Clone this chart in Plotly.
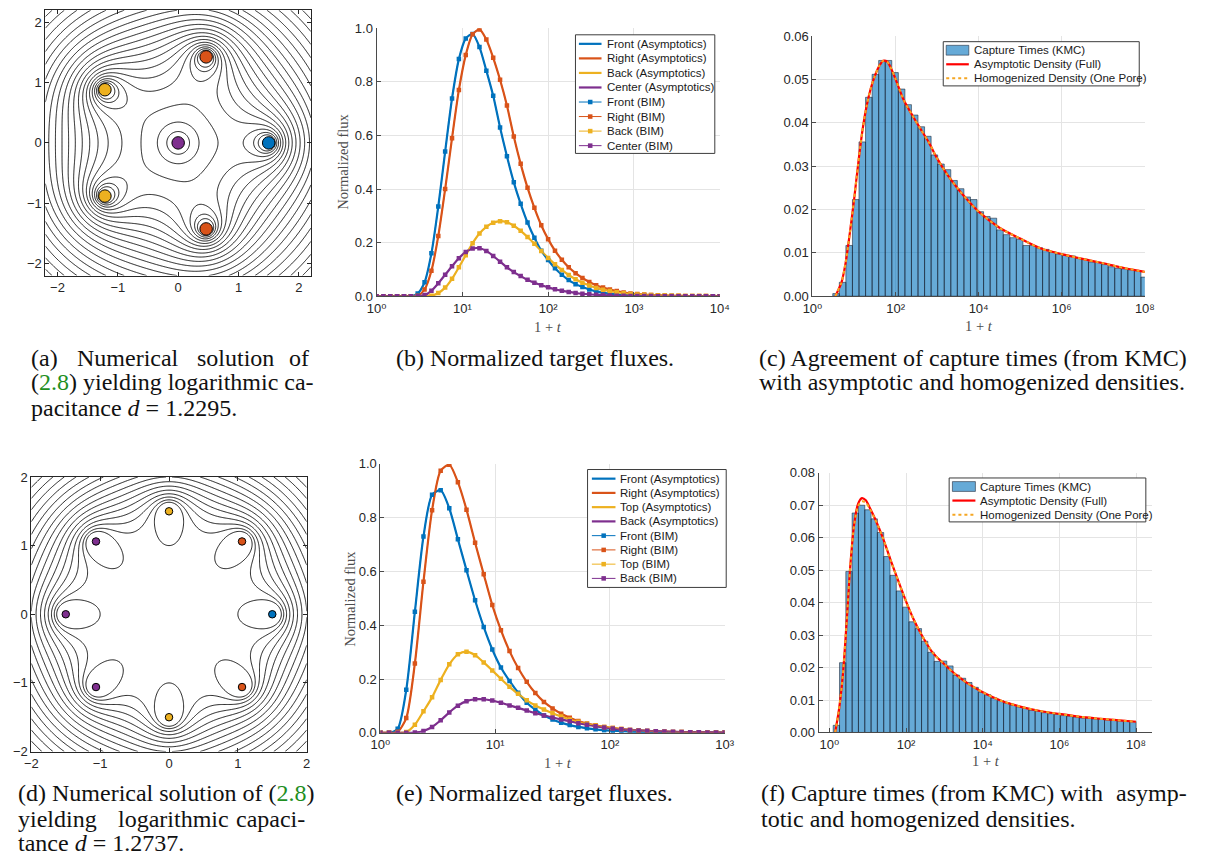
import numpy as np
import plotly.graph_objects as go

FIG_W, FIG_H = 1205, 863


def px(x):
    return x / FIG_W


def py(y):
    return 1 - y / FIG_H


BLUE, ORANGE, YELLOW, PURPLE = '#0072BD', '#D95319', '#EDB120', '#7E2F8E'

# ---------------------------------------------------------------- data
# (a) five pores on a ring of radius 1.5 plus one pore at the centre
a_pore_x = [0.0, 1.5, 0.4635, 0.4635, -1.2135, -1.2135]
a_pore_y = [0.0, 0.0, 1.4266, -1.4266, 0.8817, -0.8817]
a_pore_color = [PURPLE, BLUE, ORANGE, ORANGE, YELLOW, YELLOW]
a_capacitance = 1.2295

# (d) eight pores on a ring of radius 1.5
d_pore_x = [1.5, 1.0607, 0.0, -1.0607, -1.5, -1.0607, 0.0, 1.0607]
d_pore_y = [0.0, 1.0607, 1.5, 1.0607, 0.0, -1.0607, -1.5, -1.0607]
d_pore_color = [BLUE, ORANGE, YELLOW, PURPLE, PURPLE, PURPLE, YELLOW, ORANGE]
d_capacitance = 1.2737

# (b) normalized fluxes, sampled at log10(1+t)
b_logt = [0.00, 0.08, 0.16, 0.24, 0.32, 0.40, 0.48, 0.56, 0.64, 0.72,
          0.80, 0.88, 0.96, 1.04, 1.12, 1.20, 1.28, 1.36, 1.44, 1.52,
          1.60, 1.68, 1.76, 1.84, 1.92, 2.00, 2.08, 2.16, 2.24, 2.32,
          2.40, 2.48, 2.56, 2.64, 2.72, 2.80, 2.88, 2.96, 3.04, 3.12,
          3.20, 3.28, 3.36, 3.44, 3.52, 3.60, 3.68, 3.76, 3.84, 3.92, 4.00]
b_front = [0, 0, 0, 0, 0, 0, 0.010, 0.052, 0.160, 0.335,
           0.540, 0.738, 0.885, 0.962, 0.979, 0.930, 0.842, 0.748, 0.630, 0.522,
           0.425, 0.345, 0.275, 0.218, 0.170, 0.135, 0.104, 0.080, 0.060, 0.045,
           0.034, 0.025, 0.018, 0.013, 0.009, 0.0065, 0.0045, 0.003, 0.002, 0.0014,
           0.001, 0.0007, 0.0005, 0.0003, 0.0002, 0.0001, 0.0001, 0, 0, 0, 0]
b_right = [0, 0, 0, 0, 0, 0, 0.002, 0.025, 0.095, 0.225,
           0.400, 0.590, 0.770, 0.900, 0.978, 0.996, 0.958, 0.890, 0.808, 0.712,
           0.596, 0.494, 0.405, 0.330, 0.265, 0.213, 0.170, 0.136, 0.108, 0.086,
           0.068, 0.053, 0.041, 0.032, 0.025, 0.019, 0.014, 0.010, 0.008, 0.006,
           0.0045, 0.0033, 0.0024, 0.0017, 0.0012, 0.0009, 0.0006, 0.0004, 0.0003, 0.0002, 0.0001]
b_back = [0, 0, 0, 0, 0, 0, 0, 0, 0.002, 0.012,
          0.032, 0.065, 0.108, 0.153, 0.198, 0.234, 0.259, 0.274, 0.280, 0.276,
          0.263, 0.244, 0.221, 0.196, 0.169, 0.143, 0.119, 0.098, 0.079, 0.063,
          0.050, 0.040, 0.031, 0.024, 0.019, 0.015, 0.011, 0.0085, 0.0065, 0.005,
          0.004, 0.003, 0.0022, 0.0016, 0.0012, 0.0009, 0.0006, 0.0004, 0.0003, 0.0002, 0.0001]
b_center = [0, 0, 0, 0, 0, 0, 0, 0.004, 0.020, 0.048,
            0.080, 0.112, 0.142, 0.165, 0.178, 0.179, 0.169, 0.150, 0.129, 0.108,
            0.090, 0.075, 0.061, 0.050, 0.041, 0.033, 0.026, 0.020, 0.016, 0.012,
            0.009, 0.007, 0.005, 0.004, 0.003, 0.002, 0.0015, 0.001, 0.0007, 0.0005,
            0.0003, 0.0002, 0.0001, 0, 0, 0, 0, 0, 0, 0, 0]

# (e) normalized fluxes, sampled at log10(1+t)
e_logt = [0.000, 0.075, 0.150, 0.225, 0.300, 0.375, 0.450, 0.525, 0.600, 0.675,
          0.750, 0.825, 0.900, 0.975, 1.050, 1.125, 1.200, 1.275, 1.350, 1.425,
          1.500, 1.575, 1.650, 1.725, 1.800, 1.875, 1.950, 2.025, 2.100, 2.175,
          2.250, 2.325, 2.400, 2.475, 2.550, 2.625, 2.700, 2.775, 2.850, 2.925, 3.000]
e_front = [0, 0, 0.015, 0.16, 0.45, 0.73, 0.885, 0.902, 0.835, 0.72,
           0.605, 0.493, 0.394, 0.31, 0.243, 0.193, 0.149, 0.112, 0.086, 0.065,
           0.05, 0.038, 0.029, 0.022, 0.017, 0.013, 0.01, 0.008, 0.006, 0.0045,
           0.0035, 0.0027, 0.002, 0.0015, 0.0012, 0.0009, 0.0007, 0.0005, 0.0004, 0.0003, 0.0002]
e_right = [0, 0, 0.004, 0.055, 0.258, 0.562, 0.828, 0.975, 0.997, 0.932,
           0.83, 0.707, 0.59, 0.475, 0.382, 0.304, 0.241, 0.19, 0.148, 0.115,
           0.091, 0.071, 0.056, 0.044, 0.035, 0.028, 0.022, 0.018, 0.014, 0.011,
           0.009, 0.007, 0.0055, 0.0045, 0.0035, 0.0028, 0.0022, 0.0018, 0.0014, 0.0011, 0.0009]
e_top = [0, 0, 0, 0.003, 0.03, 0.08, 0.132, 0.197, 0.255, 0.292,
         0.302, 0.289, 0.262, 0.232, 0.201, 0.171, 0.145, 0.121, 0.102, 0.087,
         0.073, 0.061, 0.05, 0.041, 0.034, 0.027, 0.022, 0.018, 0.014, 0.011,
         0.009, 0.007, 0.0055, 0.0045, 0.0035, 0.0028, 0.0022, 0.0017, 0.0013, 0.001, 0.0008]
e_back = [0, 0, 0, 0, 0.001, 0.007, 0.022, 0.047, 0.076, 0.101,
          0.118, 0.125, 0.125, 0.12, 0.112, 0.102, 0.093, 0.083, 0.073, 0.065,
          0.057, 0.05, 0.043, 0.036, 0.03, 0.025, 0.02, 0.016, 0.013, 0.011,
          0.009, 0.0075, 0.0062, 0.005, 0.004, 0.0033, 0.0027, 0.0022, 0.0018, 0.0015, 0.0012]

# (c) KMC capture-time histogram (equal-width bins in log10(1+t)) and densities
c_bin_start, c_bin_width = 0.489, 0.1578
c_counts = [0.0006, 0.0032, 0.0117, 0.0223, 0.0356, 0.0459, 0.0512, 0.0544, 0.0544, 0.0516,
            0.0478, 0.0442, 0.0418, 0.0391, 0.0369, 0.0326, 0.0305, 0.0292, 0.0267, 0.0248,
            0.0229, 0.0223, 0.0195, 0.0184, 0.0180, 0.0153, 0.0142, 0.0135, 0.0131, 0.0117,
            0.0117, 0.0112, 0.0108, 0.0102, 0.0097, 0.0094, 0.0093, 0.0087, 0.0085, 0.0079,
            0.0078, 0.0073, 0.0068, 0.0064, 0.0063, 0.0061, 0.0059, 0.0044]
c_logt = [0.55, 0.6, 0.7, 0.8, 0.9, 1.0, 1.1, 1.2, 1.3, 1.4, 1.5, 1.6, 1.7, 1.8, 1.9, 2.0,
          2.2, 2.4, 2.6, 2.8, 3.0, 3.25, 3.5, 3.75, 4.0, 4.5, 5.0, 5.5, 6.0, 6.5, 7.0, 7.5, 8.0]
c_asym = [0, 0.001, 0.0032, 0.0078, 0.0146, 0.0221, 0.0305, 0.038, 0.0437, 0.0478,
          0.0508, 0.053, 0.0543, 0.0541, 0.0524, 0.0501, 0.0452, 0.0418, 0.0386, 0.0355,
          0.0318, 0.028, 0.0248, 0.022, 0.0195, 0.0158, 0.0133, 0.011, 0.0097, 0.0086,
          0.0076, 0.0065, 0.0056]
c_homog = [0, 0.001, 0.0032, 0.0078, 0.0146, 0.0221, 0.0305, 0.038, 0.0437, 0.0478,
           0.0508, 0.053, 0.0543, 0.0541, 0.0524, 0.0501, 0.0452, 0.0418, 0.0386, 0.0355,
           0.0318, 0.028, 0.0248, 0.022, 0.0195, 0.0158, 0.0133, 0.011, 0.0097, 0.0086,
           0.0076, 0.0065, 0.0056]

# (f) KMC capture-time histogram and densities
f_bin_start, f_bin_width = 0.10, 0.1646
f_counts = [0.0022, 0.0215, 0.0496, 0.0676, 0.0700, 0.0686, 0.0658, 0.0616, 0.0542, 0.0484,
            0.0436, 0.0386, 0.0341, 0.0320, 0.0281, 0.0247, 0.0219, 0.0220, 0.0205, 0.0177,
            0.0167, 0.0154, 0.0139, 0.0124, 0.0116, 0.0106, 0.0098, 0.0091, 0.0084, 0.0079,
            0.0074, 0.0069, 0.0066, 0.0061, 0.0058, 0.0056, 0.0052, 0.0050, 0.0048, 0.0045,
            0.0044, 0.0042, 0.0041, 0.0039, 0.0038, 0.0036, 0.0035, 0.0034]
f_logt = [0.15, 0.25, 0.35, 0.45, 0.55, 0.65, 0.75, 0.85, 0.95, 1.05, 1.2, 1.4, 1.6, 1.8, 2.0,
          2.2, 2.4, 2.7, 3.0, 3.3, 3.6, 4.0, 4.5, 5.0, 5.5, 6.0, 6.5, 7.0, 7.5, 8.0]
f_asym = [0, 0.007, 0.0175, 0.034, 0.052, 0.0645, 0.0705, 0.0722, 0.0715, 0.0693,
          0.0656, 0.0598, 0.053, 0.0466, 0.0404, 0.0348, 0.0302, 0.0245, 0.021, 0.0178,
          0.0152, 0.0124, 0.0097, 0.0079, 0.0066, 0.0057, 0.0049, 0.0043, 0.0038, 0.0033]
f_homog = [0, 0.007, 0.0175, 0.034, 0.052, 0.0642, 0.0698, 0.0712, 0.0708, 0.069,
           0.0655, 0.0598, 0.053, 0.0466, 0.0404, 0.0348, 0.0302, 0.0245, 0.021, 0.0178,
           0.0152, 0.0124, 0.0097, 0.0079, 0.0066, 0.0057, 0.0049, 0.0043, 0.0038, 0.0033]


# ---------------------------------------------------------------- helpers
def pore_field(xs, ys, capacitance, grid):
    """Point-pore approximation of the harmonic problem: returns the field on
    the grid, the pore radius that reproduces the capacitance, and a point
    evaluator."""
    xs = np.asarray(xs, float)
    ys = np.asarray(ys, float)
    n = len(xs)
    dist = np.hypot(xs[:, None] - xs[None, :], ys[:, None] - ys[None, :])
    logd = np.log(np.where(dist > 0, dist, 1.0))

    def solve(eps):
        A = np.zeros((n + 1, n + 1))
        b = np.zeros(n + 1)
        A[:n, :n] = logd
        np.fill_diagonal(A[:n, :n], np.log(eps))
        A[:n, n] = 1.0
        A[n, :n] = 1.0
        b[n] = 1.0
        s = np.linalg.solve(A, b)
        return s[:n], s[n]

    lo, hi = 1e-3, 0.45
    for _ in range(60):
        mid = 0.5 * (lo + hi)
        _, c = solve(mid)
        if np.exp(-c) < capacitance:
            lo = mid
        else:
            hi = mid
    eps = 0.5 * (lo + hi)
    q, c = solve(eps)

    def evaluate(X, Y):
        V = np.full(np.shape(X), c, dtype=float)
        for qj, xj, yj in zip(q, xs, ys):
            V = V + qj * np.log(np.maximum(np.hypot(X - xj, Y - yj), 1e-9))
        return V

    X, Y = np.meshgrid(grid, grid)
    return np.maximum(evaluate(X, Y), 0.0), eps, evaluate


def hist_outline(start, width, heights):
    xs, ys = [], []
    for k, h in enumerate(heights):
        e0 = 10 ** (start + k * width)
        e1 = 10 ** (start + (k + 1) * width)
        xs += [e0, e0, e1, e1, e0, None]
        ys += [0, h, h, 0, 0, None]
    return xs, ys


def pow10(vals):
    return [10 ** v for v in vals]


fig = go.Figure()
shapes = []
annotations = []

# ---------------------------------------------------------------- (a)
a_grid = np.linspace(-2.2, 2.2, 341)
a_field, a_eps, _ = pore_field(a_pore_x, a_pore_y, a_capacitance, a_grid)
fig.add_trace(go.Contour(
    x=a_grid, y=a_grid, z=a_field, xaxis='x', yaxis='y',
    contours=dict(coloring='lines', start=0.045, end=1.6, size=0.045, showlabels=False),
    colorscale=[[0, '#000000'], [1, '#000000']], line=dict(width=0.9),
    showscale=False, hoverinfo='skip'))
fig.add_trace(go.Scatter(
    x=a_pore_x, y=a_pore_y, mode='markers', xaxis='x', yaxis='y',
    marker=dict(size=12.5, color=a_pore_color, line=dict(color='#000000', width=1)),
    hoverinfo='skip'))

# ---------------------------------------------------------------- (d)
d_grid = np.linspace(-2.0, 2.0, 321)
d_field, d_eps, d_eval = pore_field(d_pore_x, d_pore_y, d_capacitance, d_grid)
d_centre = float(d_eval(np.array(0.0), np.array(0.0)))
fig.add_trace(go.Contour(
    x=d_grid, y=d_grid, z=d_field, xaxis='x4', yaxis='y4',
    contours=dict(coloring='lines', start=d_centre - 0.005, end=1.6, size=0.04,
                  showlabels=False),
    colorscale=[[0, '#000000'], [1, '#000000']], line=dict(width=0.9),
    showscale=False, hoverinfo='skip'))
fig.add_trace(go.Scatter(
    x=d_pore_x, y=d_pore_y, mode='markers', xaxis='x4', yaxis='y4',
    marker=dict(size=7.5, color=d_pore_color, line=dict(color='#000000', width=1)),
    hoverinfo='skip'))

# ---------------------------------------------------------------- (b), (e)
def flux_panel(logt, series, xa, ya):
    x = pow10(logt)
    for vals, col in series:
        fig.add_trace(go.Scatter(
            x=x, y=vals, mode='lines', xaxis=xa, yaxis=ya,
            line=dict(color=col, width=2.2, shape='spline', smoothing=0.7),
            hoverinfo='skip'))
    for vals, col in series:
        fig.add_trace(go.Scatter(
            x=x, y=vals, mode='lines+markers', xaxis=xa, yaxis=ya,
            line=dict(color=col, width=1, shape='spline', smoothing=0.7),
            marker=dict(symbol='square', size=4.5, color=col),
            hoverinfo='skip'))


flux_panel(b_logt, [(b_front, BLUE), (b_right, ORANGE), (b_back, YELLOW), (b_center, PURPLE)],
           'x2', 'y2')
flux_panel(e_logt, [(e_front, BLUE), (e_right, ORANGE), (e_top, YELLOW), (e_back, PURPLE)],
           'x5', 'y5')

# ---------------------------------------------------------------- (c), (f)
HIST_FILL = 'rgba(0,114,189,0.6)'
HIST_EDGE = 'rgba(25,35,50,0.8)'


def density_panel(start, width, counts, logt, asym, homog, xa, ya):
    hx, hy = hist_outline(start, width, counts)
    fig.add_trace(go.Scatter(
        x=hx, y=hy, mode='lines', fill='toself', fillcolor=HIST_FILL,
        line=dict(color=HIST_EDGE, width=0.7), xaxis=xa, yaxis=ya, hoverinfo='skip'))
    x = pow10(logt)
    fig.add_trace(go.Scatter(
        x=x, y=asym, mode='lines', xaxis=xa, yaxis=ya,
        line=dict(color='#FF0000', width=2.2, shape='spline', smoothing=0.8),
        hoverinfo='skip'))
    fig.add_trace(go.Scatter(
        x=x, y=homog, mode='lines', xaxis=xa, yaxis=ya,
        line=dict(color='#F5A623', width=2, dash='dot', shape='spline', smoothing=0.8),
        hoverinfo='skip'))


density_panel(c_bin_start, c_bin_width, c_counts, c_logt, c_asym, c_homog, 'x3', 'y3')
density_panel(f_bin_start, f_bin_width, f_counts, f_logt, f_asym, f_homog, 'x6', 'y6')

# ---------------------------------------------------------------- axes
TICK_FONT = dict(family='Liberation Sans, DejaVu Sans, Arial, sans-serif', size=13,
                 color='#262626')
GRID = '#e4e4e4'
SUPERSCRIPT = str.maketrans('0123456789', '\u2070\u00b9\u00b2\u00b3\u2074\u2075\u2076\u2077\u2078\u2079')


def sup_labels(exps):
    return [10 ** k for k in exps], ['10' + str(k).translate(SUPERSCRIPT) for k in exps]


def field_axis(x0, x1, rng, anchor, vertical=False):
    dom = [py(x1), py(x0)] if vertical else [px(x0), px(x1)]
    return dict(domain=dom, range=rng, anchor=anchor, tickvals=[-2, -1, 0, 1, 2],
                showgrid=False, zeroline=False, showline=True, mirror='ticks',
                linecolor='#262626', linewidth=1, ticks='inside', ticklen=4,
                tickcolor='#262626', tickfont=TICK_FONT)


def flux_x(x0, x1, lo, hi, exps, anchor):
    tv, tt = sup_labels(exps)
    return dict(domain=[px(x0), px(x1)], type='log', range=[lo, hi], anchor=anchor,
                tickvals=tv, ticktext=tt, showgrid=True, gridcolor=GRID, gridwidth=1,
                zeroline=False, showline=True, linecolor='#4a4a4a', linewidth=1,
                ticks='inside', ticklen=4, tickcolor='#4a4a4a', tickfont=TICK_FONT)


def lin_y(y0, y1, rng, dtick, fmt, anchor):
    return dict(domain=[py(y1), py(y0)], range=rng, dtick=dtick, tick0=0, tickformat=fmt,
                anchor=anchor, showgrid=True, gridcolor=GRID, gridwidth=1, zeroline=False,
                showline=True, linecolor='#4a4a4a', linewidth=1, ticks='inside', ticklen=4,
                tickcolor='#4a4a4a', tickfont=TICK_FONT)


layout_axes = dict(
    xaxis=field_axis(36, 306, [-2.2, 2.2], 'y'),
    yaxis=field_axis(3.3, 273.3, [-2.2, 2.2], 'x', vertical=True),
    xaxis4=field_axis(21.7, 301.7, [-2, 2], 'y4'),
    yaxis4=field_axis(478.3, 757.7, [-2, 2], 'x4', vertical=True),
    xaxis2=flux_x(372.7, 721.7, 0, 4, [0, 1, 2, 3, 4], 'y2'),
    yaxis2=lin_y(21.7, 294.3, [0, 1], 0.2, '.1f', 'x2'),
    xaxis5=flux_x(376.7, 726.7, 0, 3, [0, 1, 2, 3], 'y5'),
    yaxis5=lin_y(465, 738.7, [0, 1], 0.2, '.1f', 'x5'),
    xaxis3=flux_x(816, 1154, 0, 8, [0, 2, 4, 6, 8], 'y3'),
    yaxis3=lin_y(29.7, 294.3, [0, 0.06], 0.01, '.2f', 'x3'),
    xaxis6=flux_x(822.3, 1161, -0.28, 8.41, [0, 2, 4, 6, 8], 'y6'),
    yaxis6=lin_y(474, 738.3, [0, 0.08], 0.01, '.2f', 'x6'),
)

# ---------------------------------------------------------------- legends
LEG_FONT = dict(family='Liberation Sans, Arial, sans-serif', size=11.5, color='#1a1a1a')


def frame(x0, y0, x1, y1):
    shapes.append(dict(type='rect', xref='paper', yref='paper', layer='above',
                       x0=px(x0), x1=px(x1), y0=py(y1), y1=py(y0),
                       line=dict(color='#3c3c3c', width=1), fillcolor='#ffffff'))


def seg(x0, x1, y, color, width, dash='solid'):
    shapes.append(dict(type='line', xref='paper', yref='paper', layer='above',
                       x0=px(x0), x1=px(x1), y0=py(y), y1=py(y),
                       line=dict(color=color, width=width, dash=dash)))


def square(xc, y, color, half=2.3):
    shapes.append(dict(type='rect', xref='paper', yref='paper', layer='above',
                       x0=px(xc - half), x1=px(xc + half), y0=py(y + half), y1=py(y - half),
                       line=dict(width=0), fillcolor=color))


def label(text, x, y, font=LEG_FONT):
    annotations.append(dict(text=text, x=px(x), y=py(y), xref='paper', yref='paper',
                            xanchor='left', yanchor='middle', showarrow=False, font=font))


def flux_legend(box, y0, dy, sx0, sx1, tx, names):
    frame(*box)
    cols = [BLUE, ORANGE, YELLOW, PURPLE]
    for i, (nm, col) in enumerate(zip(names, cols)):
        y = y0 + dy * i
        seg(sx0, sx1, y, col, 2.2)
        label(nm + ' (Asymptotics)', tx, y)
    for i, (nm, col) in enumerate(zip(names, cols)):
        y = y0 + dy * (i + 4)
        seg(sx0, sx1, y, col, 1)
        square(0.5 * (sx0 + sx1), y, col)
        label(nm + ' (BIM)', tx, y)


flux_legend((575, 28.3, 716.7, 149), 37.5, 14.8, 578.5, 601.5, 605,
            ['Front', 'Right', 'Back', 'Center'])
flux_legend((587.3, 470.7, 728.3, 590.7), 480, 14.5, 591.7, 615.7, 618.3,
            ['Front', 'Right', 'Top', 'Back'])


def density_legend(box, rows, sx0, sx1, tx):
    frame(*box)
    shapes.append(dict(type='rect', xref='paper', yref='paper', layer='above',
                       x0=px(sx0), x1=px(sx1), y0=py(rows[0] + 5), y1=py(rows[0] - 5),
                       line=dict(color=HIST_EDGE, width=0.7), fillcolor=HIST_FILL))
    label('Capture Times (KMC)', tx, rows[0])
    seg(sx0, sx1, rows[1], '#FF0000', 2.2)
    label('Asymptotic Density (Full)', tx, rows[1])
    seg(sx0, sx1, rows[2], '#F5A623', 2, 'dot')
    label('Homogenized Density (One Pore)', tx, rows[2])


density_legend((949, 35.3, 1148.3, 80.3), [44, 58.3, 72.5], 952, 975, 978)
density_legend((955, 479.3, 1155, 524), [488, 502.3, 516.7], 958.3, 981.7, 984.3)

# ---------------------------------------------------------------- axis titles
TITLE_FONT = dict(family='Liberation Serif, serif', size=14.5, color='#4d4d4d')
for x, y in [(339, 157), (345, 602)]:
    annotations.append(dict(text='Normalized flux', x=px(x), y=py(y), xref='paper',
                            yref='paper', textangle=-90, showarrow=False,
                            xanchor='center', yanchor='middle', font=TITLE_FONT))
for x, y in [(547, 326), (557, 769), (985, 325), (992, 767)]:
    annotations.append(dict(text='1 + <i>t</i>', x=px(x), y=py(y), xref='paper',
                            yref='paper', showarrow=False, xanchor='center',
                            yanchor='middle', font=TITLE_FONT))

# ---------------------------------------------------------------- captions
CAP_FONT = dict(family='Liberation Serif, serif', size=24, color='#111111')
REF = '<span style="color:#1f8f1f">2.8</span>'


def caption(text, x, y, anchor='left'):
    annotations.append(dict(text=text, x=px(x), y=py(y), xref='paper', yref='paper',
                            xanchor=anchor, yanchor='middle', showarrow=False,
                            font=CAP_FONT))


caption('(a)', 19, 357)
caption('Numerical', 66, 357)
caption('solution', 188, 357)
caption('of', 306, 357, 'right')
caption('(' + REF + ') yielding logarithmic ca-', 19, 382)
caption('pacitance <i>d</i> = 1.2295.', 19, 408)
caption('(b) Normalized target fluxes.', 390, 357)
caption('(c) Agreement of capture times (from KMC)', 760, 357)
caption('with asymptotic and homogenized densities.', 760, 382)
caption('(d) Numerical solution of (' + REF + ')', 6, 800)
caption('yielding', 6, 826)
caption('logarithmic', 166, 826, 'center')
caption('capaci-', 302, 826, 'right')
caption('tance <i>d</i> = 1.2737.', 6, 851)
caption('(e) Normalized target fluxes.', 390, 800)
caption('(f) Capture times (from KMC) with', 762, 800)
caption('asymp-', 1199, 800, 'right')
caption('totic and homogenized densities.', 762, 826)

fig.update_layout(
    width=FIG_W, height=FIG_H, margin=dict(l=0, r=0, t=0, b=0),
    paper_bgcolor='#ffffff', plot_bgcolor='#ffffff', showlegend=False,
    shapes=shapes, annotations=annotations, **layout_axes)

fig.write_html('out.html', config=dict(displayModeBar=False))
